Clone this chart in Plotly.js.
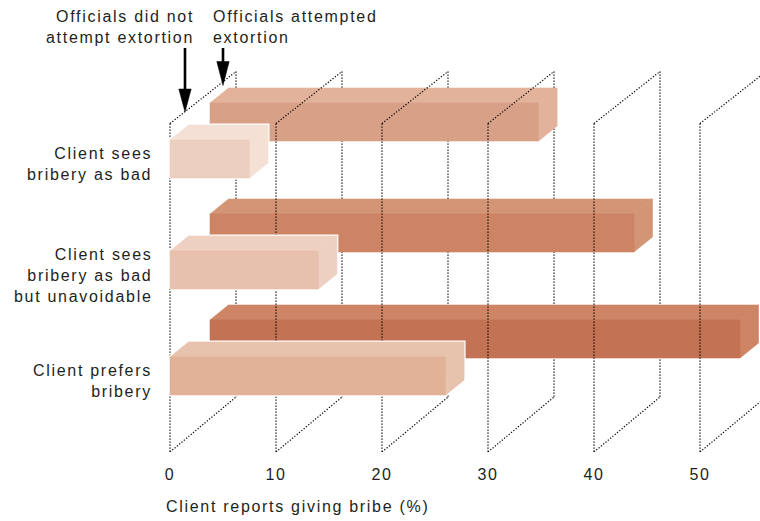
<!DOCTYPE html>
<html>
<head>
<meta charset="utf-8">
<script src="https://cdn.plot.ly/plotly-3.0.1.min.js"></script>
<style>
  html, body { margin: 0; padding: 0; background: #fff; }
  #chart { width: 760px; height: 521px; }
  svg text { letter-spacing: 1.7px !important; }
</style>
</head>
<body>
<div id="chart"></div>
<script>
// ---------------- data ----------------
const categories = ["Client sees<br>bribery as bad", "Client sees<br>bribery as bad<br>but unavoidable", "Client prefers<br>bribery"];
const seriesNames = ["Officials did not<br>attempt extortion", "Officials attempted<br>extortion"];
const notAttempted = [7.5, 14, 26];   // front row
const attempted = [31, 40, 50];       // back row
const tickVals = [0, 10, 20, 30, 40, 50];
const tickText = ["0", "10", "20", "30", "40", "50"];
const axisTitle = "Client reports giving bribe (%)";

// ---------------- layout / style ----------------
const W = 760, HT = 521, PLOT_H = 452;
const PX = 10.6;          // pixels per x unit
const X0PX = 170;         // pixel position of x = 0 on front plane
const FONT = "Liberation Sans, Arial, Helvetica, sans-serif";
const TXT = "#231f20";
const rowTop = [140, 251, 357];         // front face top of each row (y px)
const barH = 38;
const backOff = { dx: 40 / PX, dy: -37 };   // back row offset
const depth = { dx: 18.5 / PX, dy: -15 };   // bar depth (top/side faces)
const grid = { dx: 66 / PX, topFront: 123.5, topBack: 71.5, botFront: 452, botBack: 397 };
const frontColors = [
  { face: "#EDCFC0", top: "#F5E0D5" },
  { face: "#E7C1AD", top: "#EED0C1" },
  { face: "#E1B298", top: "#E7C2AC" }
];
const backColors = [
  { face: "#D9A088", top: "#E2B39A" },
  { face: "#CC8465", top: "#D49577" },
  { face: "#C47254", top: "#CD8565" }
];
const pxToX = p => (p - X0PX) / PX;

const traces = [];
function poly(xs, ys, fill, lineColor, lineWidth) {
  traces.push({
    type: "scatter", mode: "lines", x: xs, y: ys, fill: "toself",
    fillcolor: fill, line: { color: lineColor || fill, width: lineWidth == null ? 0.6 : lineWidth },
    hoverinfo: "skip", showlegend: false
  });
}
function dotted(xs, ys) {
  traces.push({
    type: "scatter", mode: "lines", x: xs, y: ys,
    line: { color: "#000", width: 1.25, dash: "1.2px,1.8px" },
    hoverinfo: "skip", showlegend: false
  });
}
function addBox(x0, x1, top, col, outline) {
  const bot = top + barH;
  const dx = depth.dx, dy = depth.dy;
  if (outline) {
    poly([x0, x0, x0 + dx, x1 + dx, x1 + dx, x1, x0],
         [bot, top, top + dy, top + dy, bot + dy, bot, bot], "#ffffff", "#ffffff", 3);
  }
  // top face
  poly([x0, x0 + dx, x1 + dx, x1, x0], [top, top + dy, top + dy, top, top], col.top);
  // side face
  poly([x1, x1 + dx, x1 + dx, x1, x1], [top, top + dy, bot + dy, bot, top], col.top);
  // front face
  poly([x0, x1, x1, x0, x0], [top, top, bot, bot, top], col.face);
}

// back plane verticals
(function () {
  const xs = [], ys = [];
  tickVals.forEach(v => { xs.push(v + grid.dx, v + grid.dx, null); ys.push(grid.topBack, grid.botBack, null); });
  dotted(xs, ys);
})();
// back row bars
attempted.forEach((v, i) => addBox(backOff.dx, backOff.dx + v, rowTop[i] + backOff.dy, backColors[i], false));
// front plane verticals and diagonals
(function () {
  const xs = [], ys = [];
  tickVals.forEach(v => {
    xs.push(v, v, null, v, v + grid.dx, null, v, v + grid.dx, null);
    ys.push(grid.topFront, grid.botFront, null, grid.topFront, grid.topBack, null, grid.botFront, grid.botBack, null);
  });
  dotted(xs, ys);
})();
// front row bars
notAttempted.forEach((v, i) => addBox(0, v, rowTop[i], frontColors[i], true));

const annotations = [];
categories.forEach((c, i) => {
  annotations.push({
    xref: "paper", yref: "y", x: 153.5 / W, y: rowTop[i] + 24,
    xanchor: "right", yanchor: "middle", align: "right", showarrow: false,
    text: c, font: { family: FONT, size: 16, color: TXT }
  });
});
annotations.push({
  xref: "paper", yref: "y", x: 196 / W, y: 26.5, xanchor: "right", yanchor: "middle", align: "right",
  showarrow: false, text: seriesNames[0], font: { family: FONT, size: 16, color: TXT }
});
annotations.push({
  xref: "paper", yref: "y", x: 210.5 / W, y: 26.5, xanchor: "left", yanchor: "middle", align: "left",
  showarrow: false, text: seriesNames[1], font: { family: FONT, size: 16, color: TXT }
});
annotations.push({
  xref: "paper", yref: "paper", x: 164 / W, y: 1 - 506 / PLOT_H, xanchor: "left", yanchor: "middle",
  showarrow: false, text: axisTitle, font: { family: FONT, size: 16, color: TXT }
});

// arrows (decorations)
const shapes = [];
function arrow(px, y0, tip, headLen, headHalf) {
  const x = pxToX(px);
  shapes.push({ type: "line", xref: "x", yref: "y", x0: x, x1: x, y0: y0, y1: tip - headLen + 2,
                line: { color: "#000", width: 2.6 } });
  const xl = pxToX(px - headHalf), xr = pxToX(px + headHalf);
  shapes.push({ type: "path", xref: "x", yref: "y",
    path: `M ${xl},${tip - headLen} L ${xr},${tip - headLen} L ${x},${tip} Z`,
    fillcolor: "#000", line: { color: "#000", width: 0.5 } });
}
arrow(185, 48, 112, 23, 6.2);
arrow(223, 48, 85.5, 24, 6.2);

const layout = {
  width: W, height: HT,
  margin: { l: 0, r: 0, t: 0, b: HT - PLOT_H, pad: 0 },
  paper_bgcolor: "#fff", plot_bgcolor: "#fff",
  showlegend: false,
  xaxis: {
    range: [pxToX(0), pxToX(W)], tickmode: "array", tickvals: tickVals, ticktext: tickText,
    showgrid: false, zeroline: false, showline: false,
    ticks: "outside", ticklen: 8, tickcolor: "rgba(0,0,0,0)",
    tickfont: { family: FONT, size: 16, color: TXT }, fixedrange: true
  },
  yaxis: { range: [PLOT_H, 0], visible: false, fixedrange: true },
  annotations: annotations,
  shapes: shapes
};

Plotly.newPlot("chart", traces, layout, { displayModeBar: false, staticPlot: true });
</script>
</body>
</html>
